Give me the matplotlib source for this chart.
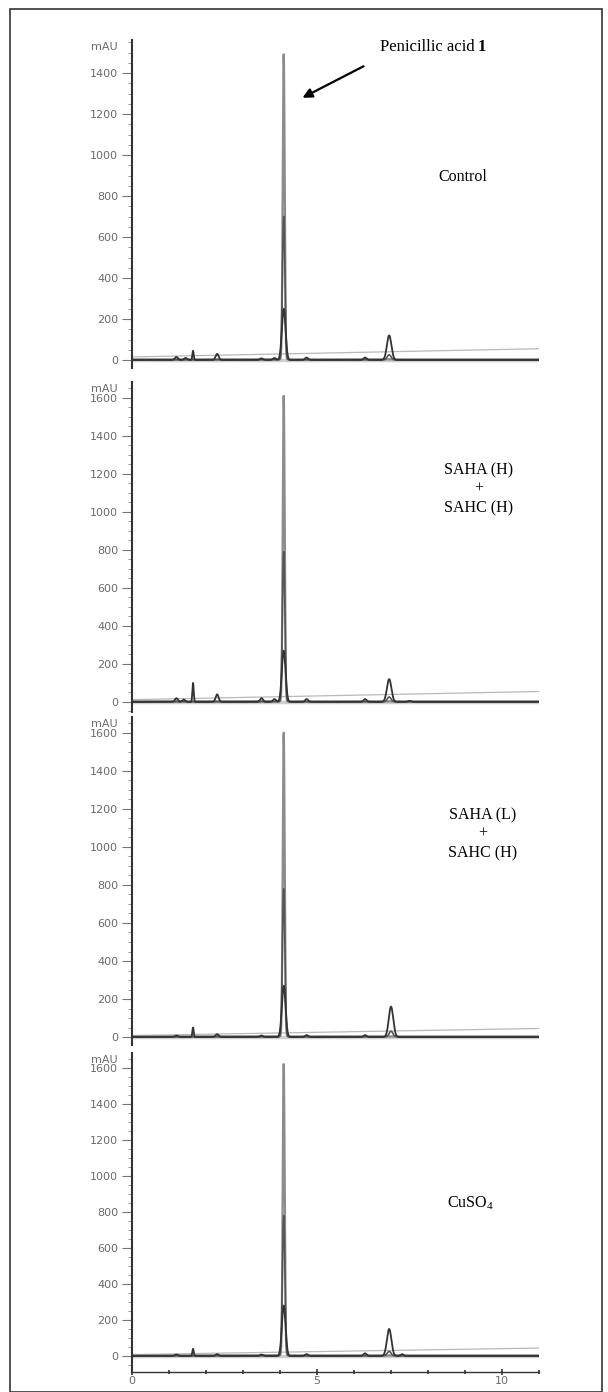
import numpy as np
import matplotlib
matplotlib.use("Agg")
import matplotlib.pyplot as plt
from matplotlib.patches import Rectangle
from matplotlib.ticker import MultipleLocator

# ---------------- data ----------------
panel_labels = ["Control", "SAHA (H)\n+\nSAHC (H)", "SAHA (L)\n+\nSAHC (H)",
                r"CuSO$_\mathregular{4}$"]

# main peak (retention time ~4.1 min), three overlaid detector traces
main_rt = 4.1
tall_heights = [1490, 1610, 1600, 1620]   # light grey trace
mid_heights = [700, 790, 780, 780]        # dark grey trace
low_heights = [250, 270, 270, 280]        # black trace

# drifting light-grey baseline (start, end) in mAU
drift_start = [15, 12, 8, 8]
drift_end = [55, 55, 45, 44]

# minor peaks on black trace: retention times (min) and heights (mAU)
minor_rt = [
    [1.2, 1.45, 1.65, 2.3, 3.5, 3.85, 4.72, 6.3, 6.95],
    [1.2, 1.4, 1.65, 2.3, 3.5, 3.85, 4.72, 6.3, 6.95, 7.5],
    [1.2, 1.65, 2.3, 3.5, 4.72, 6.3, 7.0],
    [1.2, 1.65, 2.3, 3.5, 4.72, 6.3, 6.95, 7.3],
]
minor_h = [
    [15, 10, 45, 30, 8, 10, 12, 12, 120],
    [20, 12, 100, 40, 20, 15, 15, 15, 120, 6],
    [8, 50, 15, 8, 10, 10, 160],
    [8, 40, 10, 8, 10, 15, 150, 10],
]
# second-peak echo on the dark grey trace
echo_rt = [6.95, 6.95, 7.0, 6.95]
echo_h = [25, 25, 30, 25]

y_top_tick = [1400, 1600, 1600, 1600]
ylims = [(-39, 1561), (-53, 1684), (-42, 1684), (-89, 1683)]
x_ticks = [0, 5, 10]

# ---------------- figure ----------------
W, H = 608, 1392
fig = plt.figure(figsize=(W / 100, H / 100), dpi=100)

# outer border
fig.patches.append(Rectangle((10 / W, 0), (602 - 10) / W, 1 - 9 / H,
                             transform=fig.transFigure, fill=False,
                             edgecolor="#333333", linewidth=1.2))

panel_px = [(40, 368), (382, 712), (717, 1045), (1053, 1372)]
left_px, right_px = 132, 539
t = np.linspace(0, 11, 4000)


def gauss(x, mu, h, s):
    return h * np.exp(-0.5 * ((x - mu) / s) ** 2)


tick_font = dict(family="DejaVu Sans", size=8, color="#6a6a6a")
serif = ["Liberation Serif", "DejaVu Serif"]

axes = []
for i, (top, bot) in enumerate(panel_px):
    ax = fig.add_axes([left_px / W, 1 - bot / H, (right_px - left_px) / W,
                       (bot - top) / H])
    axes.append(ax)
    ax.set_xlim(0, 11)
    ax.set_ylim(*ylims[i])
    ax.patch.set_alpha(0)

    # traces
    ax.axhline(0, color="#cfcfcf", lw=2.5, zorder=1)
    drift = drift_start[i] + (drift_end[i] - drift_start[i]) * t / 11
    ax.plot(t, drift, color="#b8b8b8", lw=0.9)

    tall = gauss(t, main_rt, tall_heights[i], 0.026) + 3
    ax.plot(t, tall, color="#8c8c8c", lw=1.6)

    mid = gauss(t, main_rt, mid_heights[i], 0.034) + gauss(t, echo_rt[i], echo_h[i], 0.05) + 1
    ax.plot(t, mid, color="#555555", lw=1.2)

    low = gauss(t, main_rt, low_heights[i], 0.05)
    for rt, hh in zip(minor_rt[i], minor_h[i]):
        s = 0.018 if abs(rt - 1.65) < 0.05 else (0.06 if rt > 6.8 and rt < 7.1 else 0.04)
        low = low + gauss(t, rt, hh, s)
    ax.plot(t, low, color="#333333", lw=1.3)

    # spines
    for sp in ["top", "right"]:
        ax.spines[sp].set_visible(False)
    ax.spines["left"].set_color("#333333")
    ax.spines["left"].set_linewidth(1.5)
    if i < 3:
        ax.spines["bottom"].set_visible(False)
        ax.tick_params(axis="x", bottom=False, labelbottom=False)
    else:
        ax.spines["bottom"].set_color("#333333")
        ax.spines["bottom"].set_linewidth(1.0)
        ax.set_xticks(x_ticks)
        ax.set_xticklabels([str(v) for v in x_ticks], **tick_font)
        ax.xaxis.set_minor_locator(MultipleLocator(1))
        ax.tick_params(axis="x", which="major", direction="inout", length=4,
                       width=1.2, color="#333333", pad=1)
        ax.tick_params(axis="x", which="minor", direction="inout", length=3,
                       width=1.2, color="#333333")

    ax.set_yticks(np.arange(0, y_top_tick[i] + 1, 200))
    ax.set_yticklabels([str(v) for v in np.arange(0, y_top_tick[i] + 1, 200)],
                       **tick_font)
    ax.yaxis.set_minor_locator(MultipleLocator(50))
    ax.tick_params(axis="y", which="major", direction="out", length=7,
                   width=0.8, color="#777777", pad=3)
    ax.tick_params(axis="y", which="minor", direction="out", length=3,
                   width=0.6, color="#888888")

    ax.text(-0.035, 0.995, "mAU", transform=ax.transAxes, ha="right", va="top",
            **tick_font)

# annotations
ax1 = axes[0]
ax1.annotate("", xy=(300 / W, 1 - 99 / H), xycoords="figure fraction",
             xytext=(366 / W, 1 - 65 / H), textcoords="figure fraction",
             arrowprops=dict(arrowstyle="-|>", color="black", lw=1.6,
                             mutation_scale=14))
fig.text(429 / W, 1 - 47 / H, "Penicillic acid ", family=serif, fontsize=12,
         ha="center", va="center")
fig.text(478 / W, 1 - 47 / H, "1", family=serif, fontsize=12,
         fontweight="bold", ha="left", va="center")

label_pos = [(463, 177), (479, 489), (483, 834), (470, 1203)]
for lbl, (x, y) in zip(panel_labels, label_pos):
    fig.text(x / W, 1 - y / H, lbl, family=serif, fontsize=11.5,
             ha="center", va="center", linespacing=1.25)

fig.savefig("out.png", dpi=100)
